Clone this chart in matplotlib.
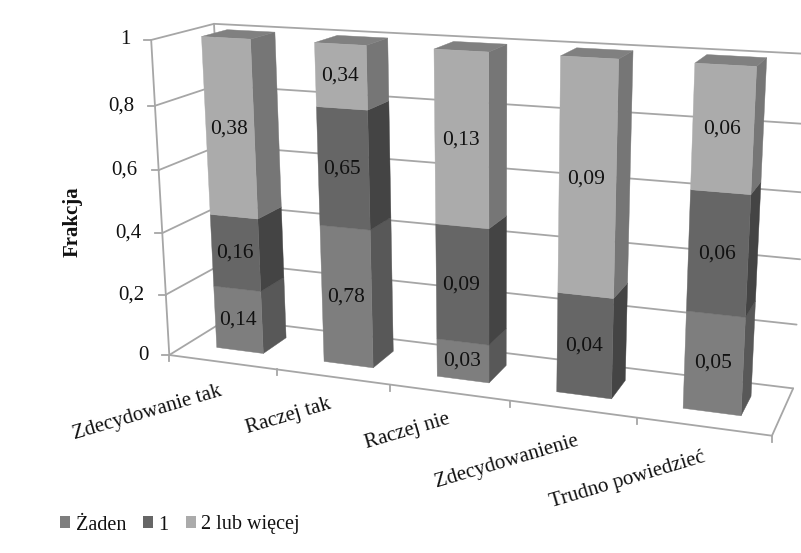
#!/usr/bin/env python3
"""Percent-stacked 3D column chart, drawn with a fitted camera projection."""

import numpy as np
import matplotlib
matplotlib.use("Agg")
import matplotlib.pyplot as plt
from matplotlib.patches import Patch, Polygon

plt.rcParams["font.family"] = ["Liberation Serif", "DejaVu Serif"]

# =============================================================================
# DATA
# =============================================================================

categories = ["Zdecydowanie tak", "Raczej tak", "Raczej nie",
              "Zdecydowanienie", "Trudno powiedzieć"]
series_names = ["Żaden", "1", "2 lub więcej"]
zaden = [0.14, 0.78, 0.03, 0.0, 0.05]
jeden = [0.16, 0.65, 0.09, 0.04, 0.06]
wiecej = [0.38, 0.34, 0.13, 0.09, 0.06]
y_ticks = [0, 0.2, 0.4, 0.6, 0.8, 1]
y_tick_labels = ["0", "0,2", "0,4", "0,6", "0,8", "1"]

# =============================================================================
# STYLE / CAMERA
# =============================================================================

FRONT_COLORS = ["#7e7e7e", "#666666", "#ababab"]
SIDE_COLORS = ["#585858", "#444444", "#767676"]
TOP_COLOR = "#808080"
GRID_COLOR = "#a6a6a6"

BAR_W = 0.44
Z_FRONT = 0.30
Z_BACK = 0.72

# label end points relative to the tick midpoint, in pixels
LABEL_DX = [-1, -2, 0, 5, 1]
LABEL_DY = [29, 27, 26, 32, 31]

# world (category position, fraction, depth) -> reference pixel, used for the camera fit
n = len(categories)
WALL_CALIB = [
    ((0, 0, 0), (168, 355)), ((0, 1, 0), (152, 40)),
    ((0, 0, 1), (231, 318)), ((0, 1, 1), (213, 23)),
    ((n, 0, 0), (772, 433)), ((n, 0, 1), (795, 388)), ((n, 1, 1), (812, 55)),
]
CALIB = WALL_CALIB * 3 + [
    ((1, 0, 0), (277, 372)), ((2, 0, 0), (390, 388)),
    ((3, 0, 0), (511, 403)), ((4, 0, 0), (638, 420)),
]
BAR_TL = [(204, 37), (318, 43), (438, 49), (565, 56), (698, 63)]
BAR_BL = [(218, 347), (327, 362), (439, 377), (560, 392), (687, 408)]
BAR_TR = [(250, 38), (365, 44), (487, 51), (617, 58), (755, 66)]
BAR_BR = [(261, 353), (370, 367), (487, 382), (609, 398), (739, 414)]
BAR_BTR = [(272, 33), (385, 38), (505, 45), (631, 52), (764, 59)]
BAR_BBR = [(283, 338), (390, 352), (504, 366), (623, 382), (748, 398)]
for i in range(n):
    xl, xr = i + 0.5 - BAR_W / 2, i + 0.5 + BAR_W / 2
    CALIB += [((xl, 1, Z_FRONT), BAR_TL[i]), ((xl, 0, Z_FRONT), BAR_BL[i]),
              ((xr, 1, Z_FRONT), BAR_TR[i]), ((xr, 0, Z_FRONT), BAR_BR[i]),
              ((xr, 1, Z_BACK), BAR_BTR[i]), ((xr, 0, Z_BACK), BAR_BBR[i])]


def fit_camera(calib):
    """Least squares 3x4 projection matrix from point pairs."""
    rows, rhs = [], []
    for (x, y, z), (u, v) in calib:
        rows.append([x, y, z, 1, 0, 0, 0, 0, -u * x, -u * y, -u * z])
        rows.append([0, 0, 0, 0, x, y, z, 1, -v * x, -v * y, -v * z])
        rhs += [u, v]
    p = np.linalg.lstsq(np.array(rows, float), np.array(rhs, float), rcond=None)[0]
    return np.append(p, 1.0).reshape(3, 4)


CAM = fit_camera(CALIB)


def proj(x, y, z):
    u, v, w = CAM @ np.array([x, y, z, 1.0])
    return u / w, v / w


# =============================================================================
# DRAW
# =============================================================================

fig = plt.figure(figsize=(8.01, 5.53), dpi=100)
ax = fig.add_axes([0, 0, 1, 1])
ax.set_xlim(0, 801)
ax.set_ylim(553, 0)
ax.axis("off")


def line3d(a, b, lw=1.3):
    pa, pb = proj(*a), proj(*b)
    ax.plot([pa[0], pb[0]], [pa[1], pb[1]], color=GRID_COLOR, lw=lw,
            solid_capstyle="round", zorder=1)


def face(pts, color, zorder=2):
    ax.add_patch(Polygon([proj(*p) for p in pts], closed=True, facecolor=color,
                         edgecolor=color, lw=0.3, zorder=zorder))


# walls and gridlines
for tick, label in zip(y_ticks, y_tick_labels):
    line3d((0, tick, 0), (0, tick, 1))
    line3d((0, tick, 1), (n, tick, 1))
    px, py = proj(0, tick, 0)
    ax.plot([px - 7, px], [py, py], color=GRID_COLOR, lw=1.3, zorder=1)
    ax.text(px - 21, py, label, ha="right", va="center", fontsize=15, color="#111111")
line3d((0, 0, 0), (0, 1, 0))
line3d((0, 0, 0), (n, 0, 0))
line3d((n, 0, 0), (n, 0, 1))
line3d((0, 0, 1), (0, 1, 1))

# category ticks and labels
for i, name in enumerate(categories):
    px, py = proj(i, 0, 0)
    ax.plot([px, px], [py, py + 6], color=GRID_COLOR, lw=1.3, zorder=1)
    mx, my = proj(i + 0.5, 0, 0)
    ax.text(mx + LABEL_DX[i], my + LABEL_DY[i], name, ha="right", va="center",
            rotation=16.5, rotation_mode="anchor", fontsize=15, color="#111111")
px, py = proj(n, 0, 0)
ax.plot([px, px], [py, py + 6], color=GRID_COLOR, lw=1.3, zorder=1)

# stacked bars, normalised to 100 %
values = np.array([zaden, jeden, wiecej], dtype=float)
shares = values / values.sum(axis=0)

for i in range(n):
    xl, xr = i + 0.5 - BAR_W / 2, i + 0.5 + BAR_W / 2
    bottom = 0.0
    for s in range(len(series_names)):
        top = bottom + shares[s, i]
        if values[s, i] > 0:
            face([(xr, bottom, Z_FRONT), (xr, top, Z_FRONT),
                  (xr, top, Z_BACK), (xr, bottom, Z_BACK)], SIDE_COLORS[s])
            face([(xl, bottom, Z_FRONT), (xr, bottom, Z_FRONT),
                  (xr, top, Z_FRONT), (xl, top, Z_FRONT)], FRONT_COLORS[s], zorder=3)
            cx, cy = proj(i + 0.5, (bottom + top) / 2, Z_FRONT)
            ax.text(cx - 1, cy, f"{values[s, i]:.2f}".replace(".", ","), ha="center",
                    va="center", fontsize=15.5, color="#111111", zorder=5)
        bottom = top
    face([(xl, 1, Z_FRONT), (xr, 1, Z_FRONT), (xr, 1, Z_BACK), (xl, 1, Z_BACK)],
         TOP_COLOR)

# axis title
ax.text(73, 222, "Frakcja", rotation=90, ha="center", va="center",
        fontsize=15, fontweight="bold", color="#111111")

# legend
handles = [Patch(facecolor=c, edgecolor="none") for c in FRONT_COLORS]
ax.legend(handles, series_names, ncol=3, frameon=False, fontsize=14.5,
          loc="center left", bbox_to_anchor=(60 / 801, 1 - 525 / 553),
          borderaxespad=0, borderpad=0, handlelength=0.52, handleheight=0.52,
          handletextpad=0.25, columnspacing=0.85, labelcolor="#111111")

plt.savefig("out.png", dpi=100)
